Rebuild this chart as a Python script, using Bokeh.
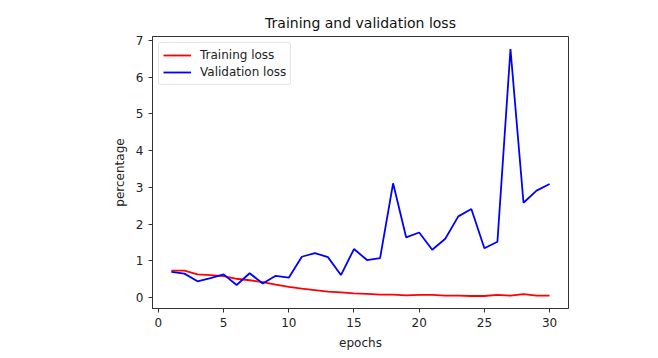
from bokeh.plotting import figure
from bokeh.models import FixedTicker, Range1d
from bokeh.embed import file_html
from bokeh.resources import INLINE

epochs = list(range(1, 31))
training_loss = [0.73, 0.73, 0.63, 0.61, 0.58, 0.51, 0.47, 0.42, 0.35, 0.29,
                 0.24, 0.20, 0.16, 0.14, 0.11, 0.10, 0.08, 0.08, 0.06, 0.07,
                 0.07, 0.05, 0.05, 0.04, 0.04, 0.07, 0.05, 0.09, 0.05, 0.05]
validation_loss = [0.70, 0.65, 0.44, 0.53, 0.63, 0.34, 0.66, 0.38, 0.59, 0.54,
                   1.11, 1.21, 1.10, 0.61, 1.32, 1.02, 1.07, 3.11, 1.64, 1.77,
                   1.30, 1.60, 2.21, 2.41, 1.34, 1.52, 6.77, 2.58, 2.91, 3.09]
x_ticks = [0, 5, 10, 15, 20, 25, 30]
y_ticks = [0, 1, 2, 3, 4, 5, 6, 7]

FONT = "DejaVu Sans"

p = figure(width=640, height=345, frame_width=416, frame_height=272,
           output_backend="svg", toolbar_location=None,
           title="Training and validation loss",
           x_range=Range1d(-0.45, 31.45), y_range=Range1d(-0.30, 7.11),
           min_border_left=152, min_border_right=72, min_border_top=36)

p.title.align = "center"
p.title.text_font = FONT
p.title.text_font_size = "14px"
p.title.text_font_style = "normal"
p.title.text_color = "#111111"
p.title.standoff = 12

p.grid.visible = False
p.outline_line_color = "#333333"
p.outline_line_width = 1
p.background_fill_color = "white"
p.border_fill_color = "white"

for ax in (p.xaxis[0], p.yaxis[0]):
    ax.axis_line_color = "#333333"
    ax.major_tick_line_color = "#333333"
    ax.major_tick_out = 4
    ax.major_tick_in = 0
    ax.minor_tick_line_color = None
    ax.major_label_text_font = FONT
    ax.major_label_text_font_size = "12px"
    ax.major_label_text_color = "#222222"
    ax.axis_label_text_font = FONT
    ax.axis_label_text_font_size = "12px"
    ax.axis_label_text_font_style = "normal"
    ax.axis_label_text_color = "#222222"

p.xaxis.ticker = FixedTicker(ticks=x_ticks)
p.yaxis.ticker = FixedTicker(ticks=y_ticks)
p.xaxis.axis_label = "epochs"
p.yaxis.axis_label = "percentage"
p.xaxis.axis_label_standoff = 6
p.yaxis.axis_label_standoff = 6

p.line(epochs, training_loss, line_color="#ff0000", line_width=1.8,
       legend_label="Training loss")
p.line(epochs, validation_loss, line_color="#0000ff", line_width=1.8,
       legend_label="Validation loss")

lg = p.legend[0]
lg.location = "top_left"
lg.margin = 6
lg.padding = 4
lg.spacing = 1
lg.border_line_color = "#cccccc"
lg.border_line_width = 1
lg.border_radius = 3
lg.label_text_font = FONT
lg.label_text_font_size = "12px"
lg.label_text_color = "#222222"
lg.glyph_width = 28
lg.glyph_height = 16
lg.label_height = 16
lg.label_standoff = 9

open("out.html", "w").write(file_html(p, INLINE))
